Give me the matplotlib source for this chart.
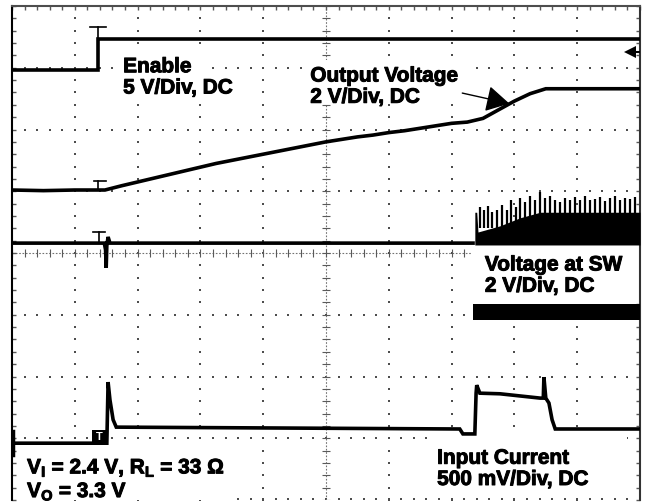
import numpy as np
import matplotlib.pyplot as plt
import matplotlib.patheffects as pe
from matplotlib.patches import Rectangle

plt.rcParams['font.family'] = ['Liberation Sans', 'DejaVu Sans']
plt.rcParams['mathtext.fontset'] = 'custom'
plt.rcParams['mathtext.rm'] = 'Liberation Sans:bold'
plt.rcParams['mathtext.it'] = 'Liberation Sans:bold'
plt.rcParams['mathtext.bf'] = 'Liberation Sans:bold'
plt.rcParams['mathtext.default'] = 'rm'

# all values in scope divisions (x: 0..10, y: -4..4)
enable_x = [0, 1.37, 1.37, 10]
enable_y = [2.96, 2.96, 3.47, 3.47]

vout_x = [0, 0.5, 1.0, 1.48, 1.75, 2.0, 2.25, 2.5, 2.75, 3.0, 3.25, 3.5, 3.75,
          4.0, 4.25, 4.5, 4.75, 5.0, 5.25, 5.5, 5.75, 6.0, 6.25, 6.5, 6.75,
          7.0, 7.25, 7.5, 7.75, 8.0, 8.25, 8.5, 9.0, 9.5, 10]
vout_y = [1.02, 1.01, 1.02, 1.02, 1.09, 1.15, 1.21, 1.27, 1.33, 1.39, 1.45, 1.50, 1.55,
          1.60, 1.65, 1.70, 1.75, 1.80, 1.84, 1.88, 1.91, 1.95, 1.98, 2.02, 2.06,
          2.10, 2.12, 2.18, 2.32, 2.46, 2.58, 2.66, 2.66, 2.66, 2.66]

sw_x = [0, 1.47, 1.49, 1.50, 1.51, 1.53, 1.56, 7.37]
sw_y = [0.16, 0.16, 0.05, -0.24, 0.12, 0.26, 0.16, 0.16]

sw_env_x = [7.37, 7.40, 7.42, 7.77, 8.09, 8.41, 10]
sw_env_y = [0.66, 0.66, 0.34, 0.44, 0.57, 0.66, 0.66]

spike_x = [7.45, 7.52, 7.58, 7.64, 7.72, 7.80, 7.88, 7.95, 8.03, 8.09, 8.17,
           8.25, 8.33, 8.41, 8.49, 8.57, 8.65, 8.73, 8.81, 8.89, 8.96, 9.04,
           9.12, 9.20, 9.28, 9.36, 9.44, 9.52, 9.60, 9.68, 9.76, 9.84, 9.92]
spike_top = [0.74, 0.70, 0.76, 0.66, 0.70, 0.78, 0.70, 0.86, 0.74, 0.89, 0.83,
             0.92, 0.86, 0.99, 0.89, 0.92, 0.86, 0.83, 0.89, 0.86, 0.91, 0.86,
             0.92, 0.86, 0.87, 0.91, 0.84, 0.89, 0.92, 0.86, 0.89, 0.87, 0.91]

sw_low_x = [7.34, 10]
sw_low_top = -0.83
sw_low_bot = -1.09

iin_x = [0, 1.51, 1.53, 1.56, 1.61, 1.66, 7.13, 7.18, 7.37, 7.39, 7.40, 7.45,
         7.77, 8.41, 8.46, 8.47, 8.50, 8.55, 8.60, 8.65, 10]
iin_y = [-3.08, -3.08, -2.09, -2.38, -2.70, -2.82, -2.85, -2.93, -2.93, -2.27, -2.14, -2.27,
         -2.28, -2.35, -2.35, -2.01, -2.35, -2.43, -2.70, -2.85, -2.85]

fig = plt.figure(figsize=(6.45, 5.04), dpi=100)
ax = fig.add_axes([12 / 645, 4 / 504, 628 / 645, 494 / 504])
ax.set_xlim(0, 10)
ax.set_ylim(-4, 4)

# graticule
xs = np.arange(0, 10.001, 0.2)
ys = np.arange(-4, 4.001, 0.2)
dot = dict(ls='none', marker='s', ms=1.5, mew=0, color='0.3', zorder=1)
for gx in [1, 2, 3, 4, 6, 7, 8, 9]:
    ax.plot(np.full(len(ys), gx), ys, **dot)
for gy in [-3, -2, -1, 1, 2, 3]:
    ax.plot(xs, np.full(len(xs), gy), **dot)
ax.plot(xs, np.full(len(xs), -3.98), **dot)
ax.axhline(0, color='0.45', lw=0.8, ls=(0, (1.5, 1.5)), zorder=1)
ax.axvline(5, color='0.45', lw=0.8, ls=(0, (1.5, 1.5)), zorder=1)
ax.vlines(xs, -0.06, 0.06, color='0.35', lw=0.8, zorder=1)
ax.hlines(ys, 4.94, 5.06, color='0.35', lw=0.8, zorder=1)

ax.set_xticks(xs)
ax.set_yticks(ys)
ax.tick_params(direction='in', length=3, width=1, color='0.35', top=True, right=True,
               bottom=False, labelbottom=False, labelleft=False)
ax.spines['bottom'].set_visible(False)
ax.spines['left'].set_color('black')
ax.spines['top'].set_color('0.3')
ax.spines['right'].set_color('0.2')
for s in ['left', 'top', 'right']:
    ax.spines[s].set_linewidth(1.5)

# white label areas
for (x0, y0, w, h) in [(1.69, 2.41, 1.46, 0.85), (4.67, 2.41, 2.62, 0.72),
                       (7.32, -0.81, 2.68, 0.92), (6.66, -3.92, 3.13, 0.94),
                       (0.13, -4.0, 3.34, 0.81)]:
    ax.add_patch(Rectangle((x0, y0), w, h, facecolor='white', edgecolor='none', zorder=2))

tr = dict(color='black', lw=2.6, solid_capstyle='butt', solid_joinstyle='miter', zorder=3)
ax.plot(enable_x, enable_y, **tr)
ax.plot(vout_x, vout_y, **tr)
ax.plot(sw_x, sw_y, **tr)
ax.fill_between(sw_env_x, 0.13, sw_env_y, color='black', lw=0, zorder=3)
ax.vlines(spike_x, 0.4, spike_top, color='black', lw=1.6, zorder=3)
ax.fill_between(sw_low_x, sw_low_bot, sw_low_top, color='black', lw=0, zorder=3)
ax.plot(iin_x, iin_y, **tr)

# trigger / channel markers
tm = dict(color='black', lw=1.2, zorder=3)
ax.plot([1.37, 1.37], [3.47, 3.66], **tm)
ax.plot([1.24, 1.50], [3.66, 3.66], **tm)
ax.plot([1.37, 1.37], [1.02, 1.16], **tm)
ax.plot([1.30, 1.50], [1.16, 1.16], **tm)
ax.plot([1.38, 1.38], [0.16, 0.34], **tm)
ax.plot([1.29, 1.48], [0.34, 0.34], **tm)
ax.add_patch(Rectangle((1.27, -3.08), 0.23, 0.21, facecolor='black', edgecolor='none', zorder=4))
ax.text(1.385, -2.975, 'T', color='white', fontsize=8, fontweight='bold',
        ha='center', va='center', zorder=5)
ax.plot([0.02, 0.02], [-2.88, -3.27], color='black', lw=2.5, zorder=3)
ax.plot([9.84], [3.26], marker='<', ms=8, color='black', mew=0, zorder=3)
ax.plot([9.88, 10], [3.26, 3.26], color='black', lw=1.5, zorder=3)

ax.annotate('', xy=(7.92, 2.42), xytext=(7.17, 2.59),
            arrowprops=dict(arrowstyle='-|>,head_length=0.8,head_width=0.45',
                            color='black', lw=1, mutation_scale=18,
                            shrinkA=0, shrinkB=0), zorder=5)

heavy = [pe.withStroke(linewidth=0.7, foreground='black')]
lab = dict(fontsize=15, fontweight='bold', ha='left', va='top', zorder=5,
           linespacing=1.15, path_effects=heavy)
ax.text(1.77, 3.17, 'Enable\n5 V/Div, DC', **lab)
ax.text(4.75, 3.02, 'Output Voltage\n2 V/Div, DC', **lab)
ax.text(7.53, -0.04, 'Voltage at SW\n2 V/Div, DC', **lab)
ax.text(6.77, -3.17, 'Input Current\n500 mV/Div, DC', **lab)
ax.text(0.24, -3.31, 'V$_{I}$ = 2.4 V, R$_{L}$ = 33 Ω\nV$_{O}$ = 3.3 V', **lab)

fig.savefig('out.png', dpi=100, facecolor='white')
